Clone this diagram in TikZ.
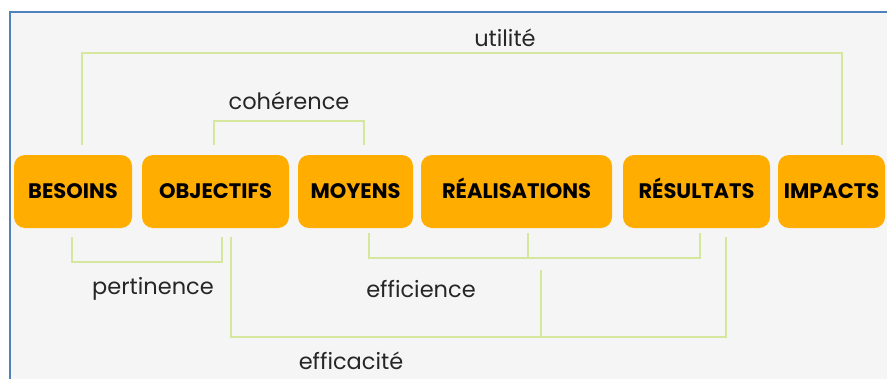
\documentclass[tikz,border=0pt]{standalone}
\usepackage{fontspec}
\setmainfont{Poppins}
\newfontfamily\boxfont{Poppins}[UprightFont=* Bold]
\definecolor{boxorange}{HTML}{FFAD00}
\definecolor{linegreen}{HTML}{D5E79C}
\definecolor{framebg}{HTML}{F5F5F5}
\definecolor{frameblue}{HTML}{4F81BD}
\definecolor{labelgray}{HTML}{262626}
\begin{document}
\begin{tikzpicture}[x=1pt,y=-1pt,
  stagebox/.style={fill=boxorange, rounded corners=11pt, inner sep=0pt, minimum height=73pt, text height=1.3em, text depth=0pt, font=\boxfont\fontsize{21}{22}\selectfont, text=black},
  bracket/.style={draw=linegreen, line width=1.6pt},
  lbl/.style={font=\fontsize{22.5}{24}\selectfont, text=labelgray, inner sep=0pt}]
\useasboundingbox (0,0) rectangle (887,378);
\fill[white] (0,0) rectangle (887,378);
\fill[framebg] (10,12) rectangle (890,381);
\draw[frameblue, line width=1.2pt] (10,381) -- (10,12) -- (890,12);
% boxes
\node[stagebox, minimum width=118pt] (bes) at (73,191.5) {BESOINS};
\node[stagebox, minimum width=147pt] (obj) at (215.5,191.5) {OBJECTIFS};
\node[stagebox, minimum width=115pt] (moy) at (355.5,191.5) {MOYENS};
\node[stagebox, minimum width=191pt] (rea) at (516.5,191.5) {RÉALISATIONS};
\node[stagebox, minimum width=147pt] (res) at (696.5,191.5) {RÉSULTATS};
\node[stagebox, minimum width=107pt] (imp) at (831.5,191.5) {IMPACTS};
% coordinates
\coordinate (u1) at (82,145);
\coordinate (u2) at (842,145);
\coordinate (c1) at (214,145);
\coordinate (c2) at (364,145);
\coordinate (p1) at (72,237);
\coordinate (p2) at (222,237);
\coordinate (e1) at (369,233);
\coordinate (e2) at (528,233);
\coordinate (e3) at (700,233);
\coordinate (f1) at (231,237);
\coordinate (f2) at (726,237);
\coordinate (f3) at (541,270);
% brackets
\draw[bracket] (u1) -- (82,53) -- (842,53) -- (u2);
\draw[bracket] (c1) -- (214,121) -- (364,121) -- (c2);
\draw[bracket] (p1) -- (72,262) -- (222,262) -- (p2);
\draw[bracket] (e1) -- (369,258) -- (700,258) -- (e3);
\draw[bracket] (e2) -- (528,258);
\draw[bracket] (f1) -- (231,337) -- (726,337) -- (f2);
\draw[bracket] (f3) -- (541,337);
% labels
\node[lbl] (lu) at (505,38) {utilité};
\node[lbl] (lc) at (289,101) {cohérence};
\node[lbl] (lp) at (153,289) {pertinence};
\node[lbl] (le) at (421,289) {efficience};
\node[lbl] (lf) at (351,361) {efficacité};
\end{tikzpicture}
\end{document}
